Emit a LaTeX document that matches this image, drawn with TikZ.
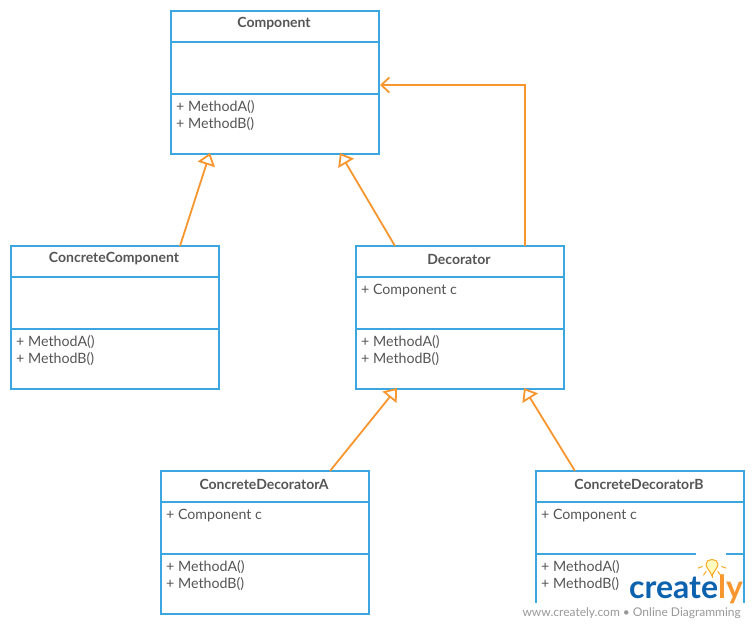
\documentclass[tikz,border=0pt]{standalone}
\usepackage{fontspec}
\setmainfont{Lato}
\usetikzlibrary{arrows.meta,positioning}
\definecolor{umlblue}{HTML}{3BA6E0}
\definecolor{umlorange}{HTML}{F7962F}
\definecolor{umltext}{HTML}{555555}
\definecolor{logoblue}{HTML}{0B62AE}
\tikzset{
  classbox/.style={draw=umlblue, line width=2pt, fill=white, minimum width=208pt, minimum height=143pt, inner sep=0pt, outer sep=0pt},
  classline/.style={draw=umlblue, line width=2pt},
  classtitle/.style={font=\fontsize{14}{16}\selectfont\bfseries, text=umltext, inner sep=0pt},
  classtext/.style={font=\fontsize{14.2}{17}\selectfont, text=umltext, inner sep=0pt, align=left, anchor=north west},
  inherit/.style={draw=umlorange, line width=1.8pt, -{Triangle[open, length=12pt, width=18pt, line width=1.8pt]}},
  assoc/.style={draw=umlorange, line width=1.8pt, -{Straight Barb[length=8pt, width=15pt, line width=1.8pt]}},
}
% one class: name, x and y of top left corner, title, attribute
\newcommand{\umlclass}[5]{
  \node[classbox, anchor=north west] (#1) at (#2,#3) {};
  \draw[classline] ([yshift=-31pt]#1.north west) -- ([yshift=-31pt]#1.north east);
  \draw[classline] ([yshift=-83pt]#1.north west) -- ([yshift=-83pt]#1.north east);
  \node[classtitle] (#1title) at ([xshift=-1pt,yshift=-13pt]#1.north) {#4};
  \node[classtext] (#1attr) at ([xshift=5pt,yshift=-38pt]#1.north west) {#5};
  \node[classtext] (#1meth) at ([xshift=5pt,yshift=-89pt]#1.north west) {+ MethodA()\\+ MethodB()};
}
\begin{document}
\begin{tikzpicture}[x=1pt,y=-1pt]
  \useasboundingbox (0,0) rectangle (755,625);

  \umlclass{component}{171}{11}{Component}{}
  \umlclass{concrete}{11}{246}{ConcreteComponent}{}
  \umlclass{decorator}{356}{246}{Decorator}{+ Component c}
  \umlclass{decoratora}{161}{471}{ConcreteDecoratorA}{+ Component c}
  \umlclass{decoratorb}{536}{471}{ConcreteDecoratorB}{+ Component c}

  % connector ends on the class borders
  \coordinate (compin1) at ([xshift=39pt,yshift=1pt]component.south west);
  \coordinate (compin2) at ([xshift=169pt,yshift=1pt]component.south west);
  \coordinate (compin3) at ([xshift=1pt,yshift=-74pt]component.north east);
  \coordinate (decin1) at ([xshift=41pt,yshift=1pt]decorator.south west);
  \coordinate (decin2) at ([xshift=168pt,yshift=1pt]decorator.south west);

  \draw[inherit] ([xshift=169pt]concrete.north west) -- (compin1);
  \draw[inherit] ([xshift=39pt]decorator.north west) -- (compin2);
  \draw[assoc] ([xshift=169pt]decorator.north west) |- (compin3);
  \draw[inherit] ([xshift=169pt]decoratora.north west) -- (decin1);
  \draw[inherit] ([xshift=39pt]decoratorb.north west) -- (decin2);

  % watermark
  \fill[white] (515,603) rectangle (755,625);
  \fill[white] (630,577) rectangle (743,604);
  \fill[white] (696,550) rectangle (726,578);
  \node[font=\fontsize{32}{32}\selectfont\bfseries, text=logoblue, inner sep=0pt, anchor=base west] (logo) at (629,598) {create\textcolor{umlorange}{ly}};
  \node[font=\fontsize{12}{14}\selectfont, text=black!40, inner sep=0pt, anchor=base east] (logourl) at (741,616) {www.creately.com \textbullet{} Online Diagramming};
  \draw[umlorange!80!yellow, line width=1pt, fill=yellow!25] (712,576) .. controls (710,570) and (706,568) .. (706,564) .. controls (706,558) and (718,558) .. (718,564) .. controls (718,568) and (714,570) .. (712,576) -- cycle;
  \foreach \a in {200,235,270,305,340}
    \draw[umlorange!80!yellow, line width=1pt] ([shift={(\a:10pt)}]712,563) -- ([shift={(\a:15pt)}]712,563);
\end{tikzpicture}
\end{document}
